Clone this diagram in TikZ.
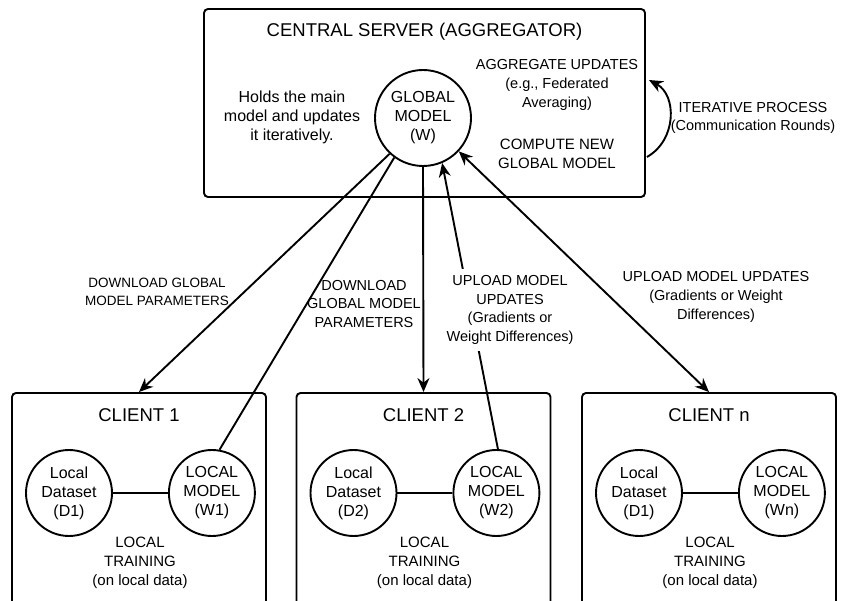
\documentclass[tikz,border=0pt]{standalone}
\usepackage{fontspec}
\setmainfont{Liberation Sans}
\usetikzlibrary{arrows.meta,positioning,calc}

\begin{document}
\begin{tikzpicture}[x=1pt,y=1pt,
  bigbox/.style={rectangle,draw,line width=1.9pt,rounded corners=4pt},
  circ/.style={circle,draw,line width=1.9pt,minimum size=86pt,inner sep=0pt,
               align=center,font=\fontsize{16}{19}\selectfont},
  lbl/.style={align=center,inner sep=0pt,font=\fontsize{14.5}{18.7}\selectfont},
  ttl/.style={inner sep=0pt,font=\fontsize{18.5}{22}\selectfont},
  arr/.style={-{Stealth[length=14pt,width=12pt]},line width=1.9pt},
  darr/.style={{Stealth[length=14pt,width=12pt]}-{Stealth[length=14pt,width=12pt]},line width=1.9pt},
  ln/.style={line width=1.9pt}
]
\useasboundingbox (0,0) rectangle (841,-601);
\clip (0,0) rectangle (841,-601);
\node[bigbox,minimum width=441pt,minimum height=188pt] (server) at (424.5,-103) {};
\node[ttl,below=15pt of server.north] (stitle) {CENTRAL SERVER (AGGREGATOR)};
\node[circ,minimum size=96pt] (global) at (423,-118) {GLOBAL\\MODEL\\(W)};
\node[lbl,font=\fontsize{16}{19}\selectfont] (holds) at (292,-117) {Holds the main\\model and updates\\it iteratively.};
\node[lbl] (aggr) at (557,-85) {AGGREGATE UPDATES\\(e.g., Federated\\Averaging)};
\node[lbl,font=\fontsize{15}{18.7}\selectfont] (compute) at (557,-154) {COMPUTE NEW\\GLOBAL MODEL};
\node[lbl] (iter) at (753,-118) {ITERATIVE PROCESS\\(Communication Rounds)};
\node[bigbox,minimum width=254pt,minimum height=220pt] (c1) at (139,-503) {};
\node[bigbox,minimum width=254pt,minimum height=220pt] (c2) at (423.5,-503) {};
\node[bigbox,minimum width=254pt,minimum height=220pt] (cn) at (709,-503) {};
\node[ttl,below=16pt of c1.north] (t1) {CLIENT 1};
\node[ttl,below=16pt of c2.north] (t2) {CLIENT 2};
\node[ttl,below=16pt of cn.north] (tn) {CLIENT n};
\node[circ] (d1) at (69,-493) {Local\\Dataset\\(D1)};
\node[circ,right=55pt of d1] (m1) {LOCAL\\MODEL\\(W1)};
\node[circ] (d2) at (353.5,-493) {Local\\Dataset\\(D2)};
\node[circ,right=55pt of d2] (m2) {LOCAL\\MODEL\\(W2)};
\node[circ] (dn) at (639,-493) {Local\\Dataset\\(D1)};
\node[circ,right=55pt of dn] (mn) {LOCAL\\MODEL\\(Wn)};
\node[lbl,font=\fontsize{15}{19}\selectfont] (tr1) at (140,-563) {LOCAL\\TRAINING\\(on local data)};
\node[lbl,font=\fontsize{15}{19}\selectfont] (tr2) at (424.5,-563) {LOCAL\\TRAINING\\(on local data)};
\node[lbl,font=\fontsize{15}{19}\selectfont] (trn) at (710,-563) {LOCAL\\TRAINING\\(on local data)};
\draw[ln] (d1)--(m1);
\draw[ln] (d2)--(m2);
\draw[ln] (dn)--(mn);
\coordinate (iterlo) at ($(server.east)+(1,-54)$);
\coordinate (iterhi) at ($(server.east)+(3,23)$);
\draw[arr] (iterlo) .. controls +(30,17) and +(28,-15) .. (iterhi);
\draw[arr] (global.227)--(c1.north);
\draw[ln] (m1.80)--(global.234);
\draw[arr] (global.south)--(c2.north);
\draw[arr] (m2.88)--(global.293);
\draw[darr] (cn.north)--(global.317);
\node[lbl,font=\fontsize{13.5}{18.7}\selectfont] (dl1) at (157,-292) {DOWNLOAD GLOBAL\\MODEL PARAMETERS};
\node[lbl] (dl2) at (364,-304) {DOWNLOAD\\GLOBAL MODEL\\PARAMETERS};
\node[lbl,fill=white,inner sep=6pt] (ul2) at (510,-310) {UPLOAD MODEL\\UPDATES\\(Gradients or\\Weight Differences)};
\node[lbl] (uln) at (716,-297) {UPLOAD MODEL UPDATES\\(Gradients or Weight\\Differences)};
\end{tikzpicture}
\end{document}
